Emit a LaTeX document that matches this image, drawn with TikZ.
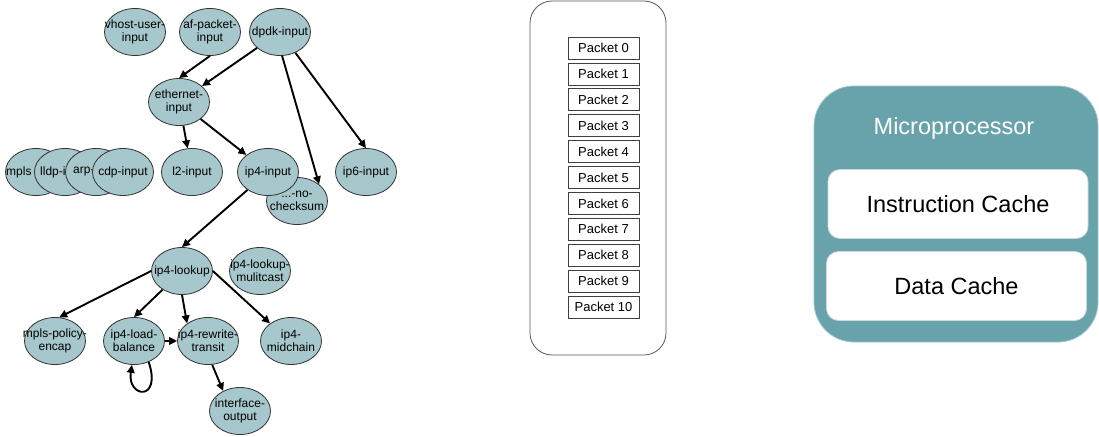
\documentclass[tikz,border=0pt]{standalone}
\usepackage{fontspec}
\setmainfont{Liberation Sans}
\usetikzlibrary{arrows.meta,shapes.geometric}

\definecolor{nodefill}{RGB}{166,199,203}
\definecolor{nodeline}{RGB}{50,50,50}
\definecolor{cputeal}{RGB}{104,163,171}
\definecolor{cpuedge}{RGB}{160,198,203}
\definecolor{cacheedge}{RGB}{205,218,220}

\tikzset{
  gnode/.style={ellipse, draw=nodeline, fill=nodefill, line width=0.8pt,
    minimum width=61pt, minimum height=47pt, inner sep=0pt},
  gtext/.style={inner sep=0pt, align=center, font=\fontsize{12}{13}\selectfont},
  flow/.style={line width=1.9pt, -{Triangle[length=8pt,width=7.5pt]}},
  pkt/.style={draw=black!75, line width=0.8pt, fill=white, minimum width=71pt,
    minimum height=22pt, inner sep=0pt, font=\fontsize{13}{13}\selectfont},
  queuebox/.style={draw=black!65, line width=0.8pt, rounded corners=22pt,
    minimum width=136pt, minimum height=354pt, inner sep=0pt},
  cpubox/.style={draw=cpuedge, fill=cputeal, line width=0.8pt, rounded corners=40pt,
    minimum width=284pt, minimum height=256pt, inner sep=0pt},
  cachebox/.style={draw=cacheedge, fill=white, line width=0.8pt, rounded corners=12pt,
    minimum width=260pt, minimum height=69pt, inner sep=0pt,
    font=\fontsize{23.5}{23.5}\selectfont},
}

% graph node: name, x, y, label
\newcommand\gnd[4]{\node[gnode, label={[gtext]center:#4}] (#1) at (#2,#3) {};}
% graph node whose label is cut short by its neighbour: name, x, y, label x, label
\newcommand\gnc[5]{\node[gnode] (#1) at (#2,#3) {};
  \node[gtext, anchor=west] (#1t) at (#4,#3) {#5};}

\begin{document}
\begin{tikzpicture}[x=1pt,y=-1pt]
  \fill[white] (0,0) rectangle (1099,436);
  \useasboundingbox (0,0) rectangle (1099,436);

  % input nodes
  \gnd{vhost}{135}{32}{vhost-user-\\input}
  \gnd{af}{210}{32}{af-packet-\\input}
  \gnd{dpdk}{280}{32}{dpdk-input}
  \gnd{eth}{179}{102}{ethernet-\\input}

  % overlapping stack of protocol inputs
  \gnc{mpls}{36}{172}{6}{mpls}
  \gnc{lldp}{65}{172}{40}{lldp-i}
  \gnc{arp}{96}{172}{73}{arp-}
  \gnd{cdp}{123}{172}{cdp-input}

  \gnd{l2}{192}{172}{l2-input}
  \gnd{nc}{297}{201}{...-no-\\checksum}
  \gnd{ip4}{268}{172}{ip4-input}
  \gnd{ip6}{366}{172}{ip6-input}

  % lookup stage
  \gnd{l4}{182}{271}{ip4-lookup}
  \gnd{l4m}{260}{271}{ip4-lookup-\\mulitcast}
  \gnd{mpe}{55}{341}{mpls-policy-\\encap}
  \gnd{lb}{134}{341}{ip4-load-\\balance}
  \gnd{rw}{208}{341}{ip4-rewrite-\\transit}
  \gnd{mid}{291}{341}{ip4-\\midchain}
  \gnd{io}{240}{411}{interface-\\output}

  % connectors
  \draw[flow] (af.south) -- (eth.north);
  \draw[flow] (dpdk) -- (eth);
  \draw[flow] (dpdk.-85) -- (nc.37);
  \draw[flow] (dpdk) -- (ip6.north);
  \draw[flow] (eth) -- (l2);
  \draw[flow] (eth) -- (ip4);
  \draw[flow] (ip4) -- (l4.north);
  \draw[flow] (l4.west) -- (mpe.80);
  \draw[flow] (l4) -- (lb.north);
  \draw[flow] (l4.south) -- (rw.140);
  \draw[flow] (l4.east) -- (mid.140);
  \draw[flow] (lb) -- (rw);
  \draw[flow] (rw.-80) -- (io.130);
  \draw[flow] (lb.-55) .. controls (162,402) and (127,398) .. (lb.-95);

  % packet queue
  \node[queuebox] (queue) at (598,178) {};
  \foreach \i in {0,...,10}
    \node[pkt] (p\i) at (603.5,{48+25.9*\i}) {Packet \i};

  % microprocessor
  \node[cpubox] (cpu) at (956,214) {};
  \node[text=white, font=\fontsize{23.5}{23.5}\selectfont] (cpulabel) at (954,128) {Microprocessor};
  \node[cachebox] (icache) at (958,204) {Instruction Cache};
  \node[cachebox] (dcache) at (956.5,286) {Data Cache};
\end{tikzpicture}
\end{document}
